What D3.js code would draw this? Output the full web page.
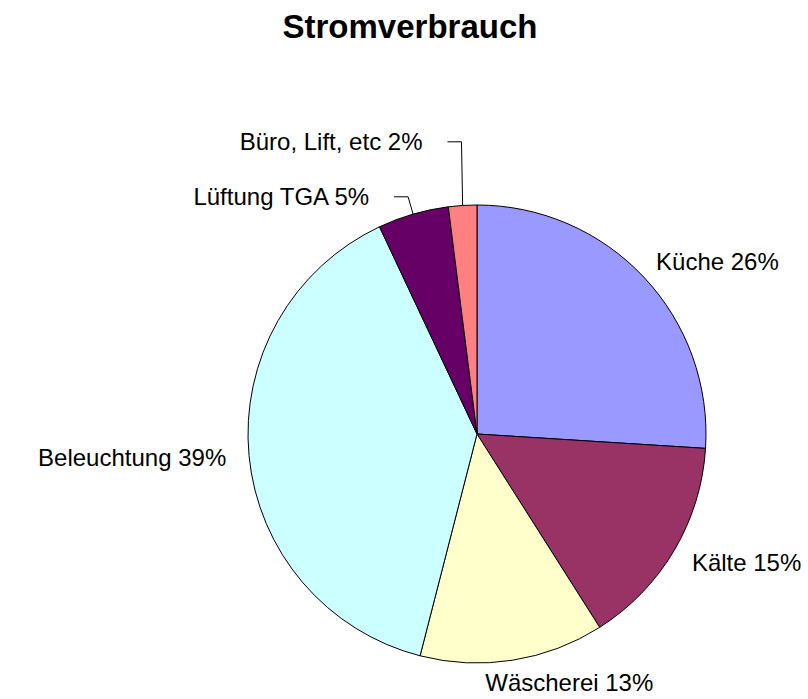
<!DOCTYPE html>
<html>
<head>
<meta charset="utf-8">
<script src="https://cdn.jsdelivr.net/npm/d3@7"></script>
<style>
	body { margin: 0; background: #fff; }
	svg { display: block; }
	text { font-family: "Liberation Sans", Arial, sans-serif; fill: #000; }
</style>
</head>
<body>
<svg id="chart" width="808" height="699"></svg>
<script>
// data
var categories = ["Küche", "Kälte", "Wäscherei", "Beleuchtung", "Lüftung TGA", "Büro, Lift, etc"];
var values = [26, 15, 13, 39, 5, 2];
var colors = ["#9999ff", "#993366", "#ffffcc", "#ccffff", "#660066", "#ff8080"];
var title = "Stromverbrauch";

var width = 808,
	height = 699,
	cx = 477,
	cy = 434,
	radius = 229;

var svg = d3.select("#chart");

svg.append("text")
	.attr("x", 410)
	.attr("y", 38)
	.attr("text-anchor", "middle")
	.style("font-size", "33px")
	.style("font-weight", "bold")
	.text(title);

var total = d3.sum(values);
var data = categories.map(function(c, i){
	return { name: c, value: values[i], color: colors[i] };
});

var pie = d3.pie()
	.sort(null)
	.value(function(d){ return d.value; });

var arc = d3.arc()
	.innerRadius(0)
	.outerRadius(radius);

var arcs = pie(data);

var g = svg.append("g")
	.attr("transform", "translate(" + cx + "," + cy + ")");

g.selectAll("path.slice")
	.data(arcs)
	.enter()
	.append("path")
		.attr("class", "slice")
		.attr("d", arc)
		.attr("fill", function(d){ return d.data.color; })
		.attr("stroke", "#000")
		.attr("stroke-width", 1);

var fontSize = 24;
var pct = function(d){ return d.data.name + " " + Math.round(d.data.value / total * 100) + "%"; };

// big slices: labels outside, no leader line
var labelR = 252;
var big = arcs.filter(function(d){ return d.data.value / total >= 0.1; });
var small = arcs.filter(function(d){ return d.data.value / total < 0.1; });

big.forEach(function(d){
	var a = (d.startAngle + d.endAngle) / 2;
	var s = Math.sin(a), c = -Math.cos(a);
	var t = g.append("text")
		.style("font-size", fontSize + "px")
		.attr("text-anchor", "middle")
		.text(pct(d));
	var w = t.node().getComputedTextLength();
	var x = labelR * s + (w / 2) * Math.sign(s) * Math.pow(Math.abs(s), 0.25);
	var y = labelR * c;
	t.attr("x", x).attr("y", y).attr("dy", "0.35em");
});

// small slices: leader lines, stacked so labels don't overlap
var prevY = null;
small.slice().sort(function(a, b){ return a.startAngle - b.startAngle; }).forEach(function(d){
	var a = (d.startAngle + d.endAngle) / 2;
	var s = Math.sin(a), c = -Math.cos(a);
	var p0 = [radius * s, radius * c];
	var e = [(radius + 18) * s, (radius + 18) * c];
	if (prevY != null && e[1] > prevY - 55) e[1] = prevY - 55;
	prevY = e[1];
	var dir = s < 0 ? -1 : 1;
	var p2 = [e[0] + dir * 14, e[1]];
	g.append("polyline")
		.attr("points", [p0, e, p2].map(function(p){ return p.join(","); }).join(" "))
		.attr("fill", "none")
		.attr("stroke", "#000")
		.attr("stroke-width", 1);
	g.append("text")
		.style("font-size", fontSize + "px")
		.attr("text-anchor", dir < 0 ? "end" : "start")
		.attr("x", p2[0] + dir * 25)
		.attr("y", p2[1])
		.attr("dy", "0.35em")
		.text(pct(d));
});
</script>
</body>
</html>
